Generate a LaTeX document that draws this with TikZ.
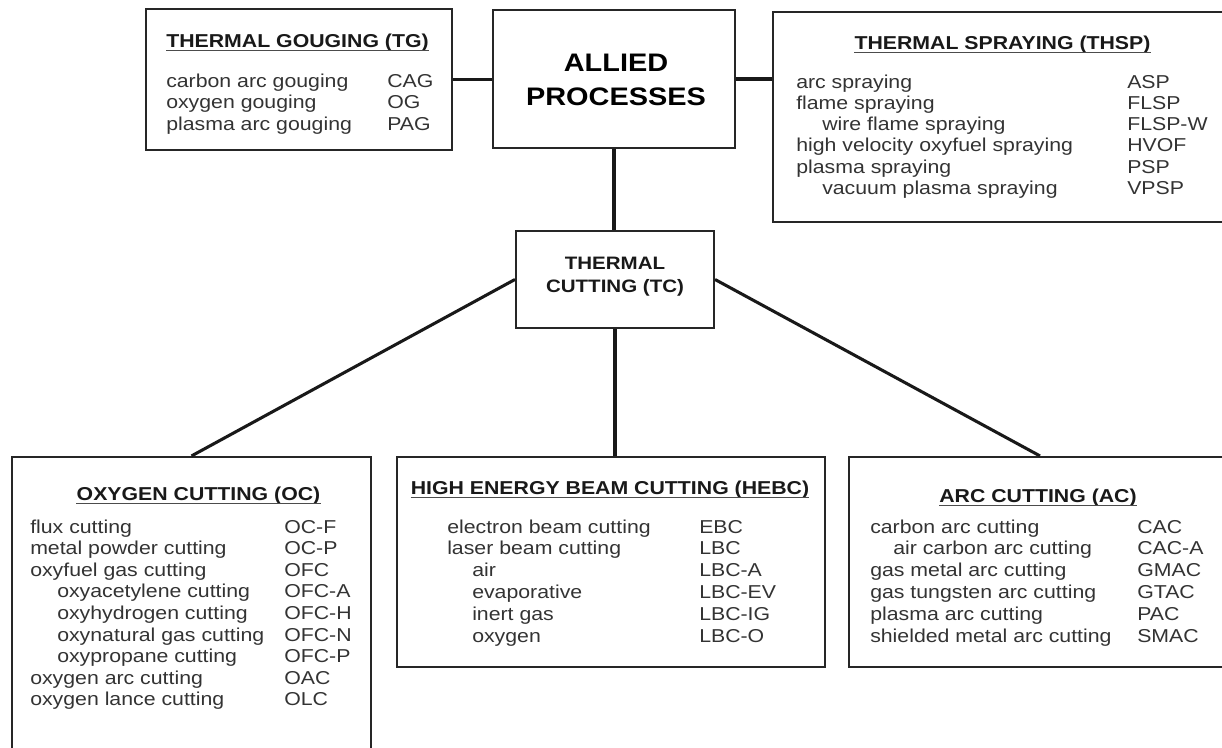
\documentclass[tikz,border=0pt]{standalone}
\usepackage{fontspec}
\setmainfont{Liberation Sans}[FakeStretch=1.14]
\usetikzlibrary{fit,calc}
\begin{document}
\begin{tikzpicture}[x=0.75pt,y=-0.75pt,
  box/.style={draw=black!85,line width=1.6pt,inner sep=0pt},
  link/.style={draw=black!90,line width=2.3pt},
  item/.style={anchor=base west,inner sep=0pt,text=black!80,font=\fontsize{14pt}{16pt}\selectfont},
  ttl/.style={anchor=base,inner sep=0pt,text=black!90,font=\fontsize{14pt}{16pt}\selectfont\bfseries},
  uline/.style={draw=black!70,line width=0.7pt}]
\useasboundingbox (0,0) rectangle (1222,747);
% boxes
\node[box,fit={(146,9) (452,150)}] (tg) {};
\node[box,fit={(493,10) (735,148)}] (allied) {};
\node[box,fit={(773,12) (1231,222)}] (thsp) {};
\node[box,fit={(516,231) (714,328)}] (tc) {};
\node[box,fit={(12,457) (371,760)}] (oc) {};
\node[box,fit={(397,457) (825,667)}] (hebc) {};
\node[box,fit={(849,457) (1231,667)}] (ac) {};
% centre texts
\node[align=center,inner sep=0pt,font=\fontsize{19pt}{25.5pt}\selectfont\bfseries] (alliedtxt) at (616,80) {ALLIED\\PROCESSES};
\node[align=center,inner sep=0pt,text=black!90,font=\fontsize{13.5pt}{17pt}\selectfont\bfseries] (tctxt) at (615,277) {THERMAL\\CUTTING (TC)};
% connectors
\draw[link] (tg.east) -- (tg.east -| allied.west);
\draw[link] (allied.east) -- (allied.east -| thsp.west);
\draw[link] (allied.south) -- (allied.south |- tc.north);
\draw[link] (tc.west) -- (oc.north);
\draw[link] (tc.east) -- (ac.north);
\draw[link] (tc.south) -- (tc.south |- hebc.north);
% titles
\node[ttl] (tgt) at (297.5,47) {THERMAL GOUGING (TG)};
\node[ttl] (thspt) at (1002.5,49) {THERMAL SPRAYING (THSP)};
\node[ttl] (oct) at (198.5,500) {OXYGEN CUTTING (OC)};
\node[ttl] (hebct) at (610,494) {HIGH ENERGY BEAM CUTTING (HEBC)};
\node[ttl] (act) at (1038,502) {ARC CUTTING (AC)};
\foreach \n in {tgt,thspt,oct,hebct,act}
  \draw[uline] ($(\n.base west)+(0,3)$) -- ($(\n.base east)+(0,3)$);
% lists
\foreach \t/\a/\i [count=\k from 0] in {carbon arc gouging/CAG/0,oxygen gouging/OG/0,plasma arc gouging/PAG/0}{
  \node[item] (tgl\k) at ({166+\i*26},{87+\k*21.5}) {\t};
  \node[item] (tga\k) at (387,{87+\k*21.5}) {\a};}
\foreach \t/\a/\i [count=\k from 0] in {arc spraying/ASP/0,flame spraying/FLSP/0,wire flame spraying/FLSP-W/1,high velocity oxyfuel spraying/HVOF/0,plasma spraying/PSP/0,vacuum plasma spraying/VPSP/1}{
  \node[item] (thspl\k) at ({796+\i*26},{88+\k*21.3}) {\t};
  \node[item] (thspa\k) at (1127,{88+\k*21.3}) {\a};}
\foreach \t/\a/\i [count=\k from 0] in {flux cutting/OC-F/0,metal powder cutting/OC-P/0,oxyfuel gas cutting/OFC/0,oxyacetylene cutting/OFC-A/1,oxyhydrogen cutting/OFC-H/1,oxynatural gas cutting/OFC-N/1,oxypropane cutting/OFC-P/1,oxygen arc cutting/OAC/0,oxygen lance cutting/OLC/0}{
  \node[item] (ocl\k) at ({30+\i*27},{533+\k*21.6}) {\t};
  \node[item] (oca\k) at (284,{533+\k*21.6}) {\a};}
\foreach \t/\a/\i [count=\k from 0] in {electron beam cutting/EBC/0,laser beam cutting/LBC/0,air/LBC-A/1,evaporative/LBC-EV/1,inert gas/LBC-IG/1,oxygen/LBC-O/1}{
  \node[item] (hebcl\k) at ({447+\i*25},{533+\k*21.8}) {\t};
  \node[item] (hebca\k) at (699,{533+\k*21.8}) {\a};}
\foreach \t/\a/\i [count=\k from 0] in {carbon arc cutting/CAC/0,air carbon arc cutting/CAC-A/1,gas metal arc cutting/GMAC/0,gas tungsten arc cutting/GTAC/0,plasma arc cutting/PAC/0,shielded metal arc cutting/SMAC/0}{
  \node[item] (acl\k) at ({870+\i*23},{533+\k*21.8}) {\t};
  \node[item] (aca\k) at (1137,{533+\k*21.8}) {\a};}
\end{tikzpicture}
\end{document}
